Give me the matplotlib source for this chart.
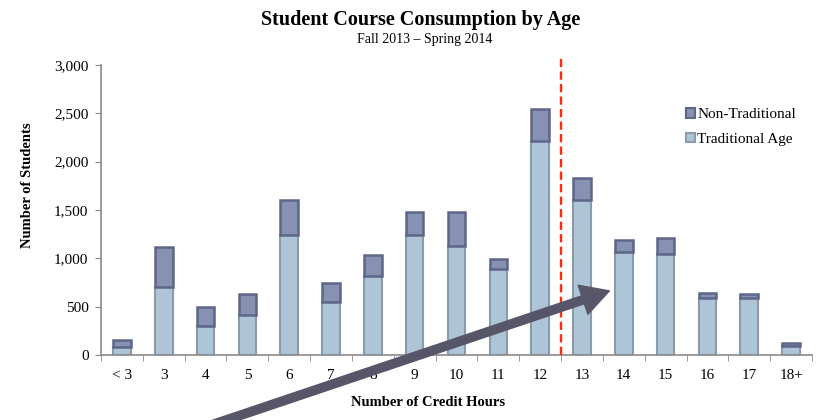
import matplotlib
matplotlib.use('Agg')
import matplotlib.pyplot as plt
from matplotlib.patches import Patch, FancyArrowPatch
from matplotlib.ticker import FuncFormatter, FixedLocator

plt.rcParams['font.family'] = ['Liberation Serif', 'DejaVu Serif']

# data
credit_hours = ['< 3', '3', '4', '5', '6', '7', '8', '9', '10', '11', '12',
                '13', '14', '15', '16', '17', '18+']
traditional = [85, 700, 295, 410, 1245, 550, 815, 1245, 1125, 890, 2215,
               1605, 1070, 1045, 585, 585, 95]
non_traditional = [65, 415, 200, 220, 355, 195, 220, 235, 355, 105, 330,
                   225, 120, 165, 60, 45, 30]
y_ticks = [0, 500, 1000, 1500, 2000, 2500, 3000]

trad_fill, trad_edge = '#adc5d7', '#8b9baa'
non_fill, non_edge = '#8791b2', '#5d6689'

fig = plt.figure(figsize=(8.17, 4.20), dpi=100)
ax = fig.add_axes([101 / 817, 1 - 355 / 420, 711 / 817, 290 / 420])

x = list(range(len(credit_hours)))
ax.bar(x, traditional, width=0.42, color=trad_fill, edgecolor=trad_edge,
       linewidth=1.5, label='Traditional Age', zorder=2)
ax.bar(x, non_traditional, width=0.42, bottom=traditional, color=non_fill,
       edgecolor=non_edge, linewidth=1.8, label='Non-Traditional', zorder=2)

# red dashed divider between 12 and 13 credit hours
split = credit_hours.index('12') + 0.5
ax.plot([split, split], [0, 3085], color='#ff2a10', lw=1.7,
        linestyle=(0, (3.5, 1.8)), clip_on=False, zorder=3)

ax.set_xlim(-0.5, len(credit_hours) - 0.5)
ax.set_ylim(0, 3000)
ax.set_xticks(x)
ax.set_xticklabels(credit_hours)
ax.xaxis.set_minor_locator(FixedLocator([i + 0.5 for i in range(-1, len(credit_hours))]))
ax.set_yticks(y_ticks)
ax.yaxis.set_major_formatter(FuncFormatter(lambda v, p: f'{int(v):,}'))

for s in ['top', 'right']:
    ax.spines[s].set_visible(False)
for s in ['left', 'bottom']:
    ax.spines[s].set_color('#8a8a8a')
    ax.spines[s].set_linewidth(1.2)

ax.tick_params(axis='x', which='major', length=0, pad=10, labelsize=11)
ax.tick_params(axis='x', which='minor', length=4, color='#8a8a8a', direction='out')
ax.tick_params(axis='y', length=4, color='#8a8a8a', direction='out', pad=5, labelsize=11)

fig.text(421 / 817, 1 - 20 / 420, 'Student Course Consumption by Age',
         ha='center', va='center', fontsize=14.5, fontweight='bold')
fig.text(425 / 817, 1 - 40 / 420, 'Fall 2013 \u2013 Spring 2014',
         ha='center', va='center', fontsize=10)
fig.text(28 / 817, 1 - 185 / 420, 'Number of Students', rotation=90,
         ha='center', va='center', fontsize=10.5, fontweight='bold')
fig.text(428 / 817, 1 - 403 / 420, 'Number of Credit Hours',
         ha='center', va='center', fontsize=10.5, fontweight='bold')

handles = [Patch(facecolor=non_fill, edgecolor=non_edge, linewidth=1.5),
           Patch(facecolor=trad_fill, edgecolor=trad_edge, linewidth=1.5)]
ax.legend(handles, ['Non-Traditional', 'Traditional Age'],
          loc='upper left', bbox_to_anchor=(686 / 817, 1 - 108 / 420),
          bbox_transform=fig.transFigure, frameon=False, fontsize=11,
          handlelength=0.6, handleheight=0.6, handletextpad=0.15,
          labelspacing=0.75, borderpad=0, borderaxespad=0)

# big grey arrow pointing at the 14-hour bar
arrow = FancyArrowPatch((1.67, -0.2), (6.12, 1.30),
                        arrowstyle='simple,head_length=20,head_width=22,tail_width=6',
                        mutation_scale=1, color='#565668',
                        transform=fig.dpi_scale_trans, zorder=10)
fig.add_artist(arrow)

fig.savefig('out.png', dpi=100)
